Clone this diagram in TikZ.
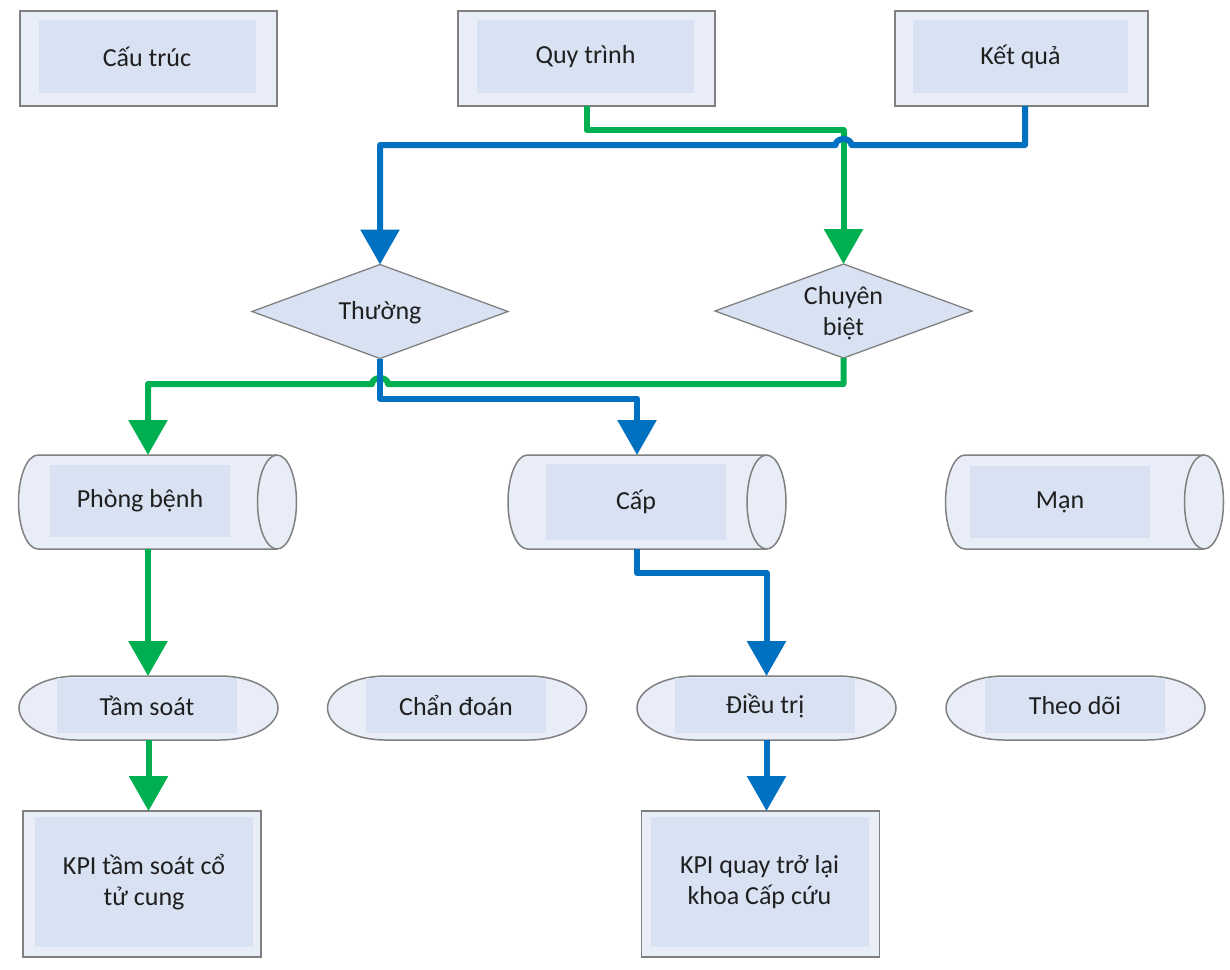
\documentclass[tikz,border=0pt]{standalone}
\usepackage{fontspec}
\setmainfont{Carlito}
\usetikzlibrary{arrows.meta,shapes.geometric}
\definecolor{gr}{HTML}{00B050}
\definecolor{bl}{HTML}{0070C0}
\definecolor{outerfill}{HTML}{E8EDF7}
\definecolor{innerfill}{HTML}{D9E2F3}
\definecolor{bordergray}{HTML}{808080}
\newcommand{\shapeoutline}[3]{%
  \draw[shapeline] ([xshift=#2]#1.north west) -- ([xshift=-#2]#1.north east)
    arc[start angle=90,end angle=-90,x radius=#2,y radius=#3]
    -- ([xshift=#2]#1.south west)
    arc[start angle=270,end angle=90,x radius=#2,y radius=#3] -- cycle;}
\newcommand{\cylinderrim}[3]{%
  \draw[rimline] ([xshift=-#2]#1.north east)
    arc[start angle=90,end angle=270,x radius=#2,y radius=#3];}
\tikzset{
  outerbox/.style={draw=bordergray, line width=1.5pt, fill=outerfill, minimum width=257pt, minimum height=95pt, inner sep=0pt, outer sep=0pt},
  innerbox/.style={fill=innerfill, minimum width=217pt, minimum height=73pt, inner sep=0pt, outer sep=0pt, align=center},
  ghost/.style={inner sep=0pt, outer sep=0pt},
  shapeline/.style={draw=bordergray, line width=1.5pt, fill=outerfill},
  rimline/.style={draw=bordergray, line width=1.5pt},
  dia/.style={diamond, draw=bordergray, line width=1.3pt, fill=innerfill, minimum width=256pt, minimum height=94pt, inner sep=0pt, outer sep=0pt, aspect=2.72},
  plaintext/.style={inner sep=0pt, align=center},
  gline/.style={draw=gr, line width=6pt, line join=round, -{Triangle[width=38pt,length=35pt]}},
  bline/.style={draw=bl, line width=6pt, line join=round, -{Triangle[width=38pt,length=35pt]}},
}
\begin{document}
\begin{tikzpicture}[x=1pt, y=-1pt, font=\fontsize{26}{31}\selectfont, text=black!88]
\fill[white] (0,0) rectangle (1230,969);
\useasboundingbox (0,0) rectangle (1230,969);

% top row
\node[outerbox] (ct) at (148.5,58.5) {};
\node[innerbox] (ct-t) at (147,56.5) {Cấu trúc};
\node[outerbox] (qt) at (586.5,58.5) {};
\node[innerbox] (qt-t) at (585.5,56.5) {Quy trình};
\node[outerbox, minimum width=253pt] (kq) at (1021.5,58.5) {};
\node[innerbox, minimum width=215pt] (kq-t) at (1020.5,56.5) {Kết quả};

% diamonds
\node[dia] (th) at (380,311.5) {};
\node[plaintext] (th-t) at (380,313) {Thường};
\node[dia, minimum width=257pt] (cb) at (843.5,311) {};
\node[plaintext] (cb-t) at (843.5,313) {Chuyên\\biệt};

% cylinders
\node[ghost, minimum width=278pt, minimum height=94pt] (pb) at (157.5,502) {};
\shapeoutline{pb}{19.5pt}{47pt}\cylinderrim{pb}{19.5pt}{47pt}
\node[innerbox, minimum width=180pt, minimum height=72pt] (pb-t) at (140,501) {Phòng bệnh};
\node[ghost, minimum width=278pt, minimum height=94pt] (cp) at (647,502) {};
\shapeoutline{cp}{19.5pt}{47pt}\cylinderrim{cp}{19.5pt}{47pt}
\node[innerbox, minimum width=180pt, minimum height=76pt] (cp-t) at (636,502) {Cấp};
\node[ghost, minimum width=278pt, minimum height=94pt] (mn) at (1084.5,502) {};
\shapeoutline{mn}{19.5pt}{47pt}\cylinderrim{mn}{19.5pt}{47pt}
\node[innerbox, minimum width=180pt, minimum height=72pt] (mn-t) at (1060,502) {Mạn};

% stadiums
\node[ghost, minimum width=259pt, minimum height=64pt] (ts) at (148.5,708) {};
\shapeoutline{ts}{58pt}{32pt}
\node[innerbox, minimum width=180pt, minimum height=55pt] (ts-t) at (147,705.5) {Tầm soát};
\node[ghost, minimum width=259pt, minimum height=64pt] (cd) at (457,708) {};
\shapeoutline{cd}{58pt}{32pt}
\node[innerbox, minimum width=180pt, minimum height=55pt] (cd-t) at (456,705.5) {Chẩn đoán};
\node[ghost, minimum width=259pt, minimum height=64pt] (dt) at (766.5,708) {};
\shapeoutline{dt}{58pt}{32pt}
\node[innerbox, minimum width=180pt, minimum height=55pt] (dt-t) at (765,705.5) {Điều trị};
\node[ghost, minimum width=259pt, minimum height=64pt] (td) at (1075.5,708) {};
\shapeoutline{td}{58pt}{32pt}
\node[innerbox, minimum width=180pt, minimum height=55pt] (td-t) at (1075,705.5) {Theo dõi};

% KPI boxes
\node[outerbox, minimum width=238pt, minimum height=146pt] (kpa) at (142,884) {};
\node[innerbox, minimum width=218pt, minimum height=130pt] (kpa-t) at (144,882) {KPI tầm soát cổ\\tử cung};
\node[outerbox, minimum width=238pt, minimum height=146pt] (kpb) at (760.5,884) {};
\node[innerbox, minimum width=218pt, minimum height=130pt] (kpb-t) at (759.5,882) {KPI quay trở lại\\khoa Cấp cứu};

% connectors
\path (cb.north) ++(0,-119) coordinate (hopa);
\path (th.south) ++(8,25.5) coordinate (hopb);
\draw[gline] (qt.south) -- ++(0,24) -| (cb.north);
\draw[bline] ([xshift=3.5pt]kq.south) |- ([xshift=8pt]hopa)
  arc[start angle=0,end angle=180,x radius=8pt,y radius=6pt] -| (th.north);
\draw[gline] (cb.south) |- (hopb)
  arc[start angle=0,end angle=180,x radius=8pt,y radius=6pt] -| ([xshift=-9.5pt]pb.north);
\draw[bline] (th.south) -- ++(0,40) -| ([xshift=-10pt]cp.north);
\draw[gline] ([xshift=-9.5pt]pb.south) -- ([xshift=-9.5pt]pb.south |- ts.north);
\draw[gline] (ts.south) -- (ts.south |- kpa.north);
\draw[bline] ([xshift=-10pt]cp.south) -- ++(0,24) -| (dt.north);
\draw[bline] (dt.south) -- (dt.south |- kpb.north);
\end{tikzpicture}
\end{document}
